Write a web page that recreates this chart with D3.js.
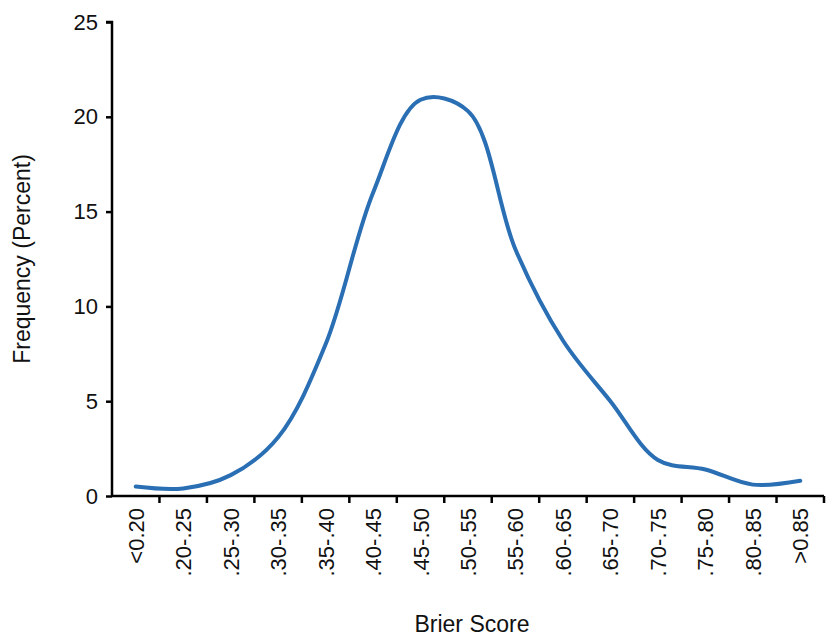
<!DOCTYPE html>
<html><head><meta charset="utf-8">
<script src="https://cdn.jsdelivr.net/npm/d3@7"></script>
<style>body{margin:0;background:#fff}text{font-family:"Liberation Sans",Arial,sans-serif;fill:#111}</style>
</head><body><svg width="826" height="638"></svg>
<script>
const categories = ["<0.20", ".20-.25", ".25-.30", ".30-.35", ".35-.40", ".40-.45", ".45-.50", ".50-.55", ".55-.60", ".60-.65", ".65-.70", ".70-.75", ".75-.80", ".80-.85", ">0.85"];
const frequency = [0.5, 0.4, 1.1, 3.1, 8.0, 16.0, 20.9, 20.3, 13.0, 8.2, 5.0, 1.9, 1.4, 0.6, 0.8];
const yTicks = [0, 5, 10, 15, 20, 25];

const svg = d3.select("svg");
const mLeft = 112, mRight = 824, mTop = 22, mBottom = 496;

const x = d3.scaleBand().domain(categories).range([mLeft, mRight]);
const y = d3.scaleLinear().domain([0, 25]).range([mBottom, mTop]);

// y axis
const ya = svg.append("g").attr("transform", `translate(${mLeft},0)`)
  .call(d3.axisLeft(y).tickValues(yTicks).tickSize(6).tickPadding(8));
ya.selectAll("text").style("font-size", "22px");
ya.selectAll("path,line").attr("stroke", "#000").attr("stroke-width", 2.5);
ya.select(".domain").attr("d", `M-6,${mTop}H0V${mBottom}`);

// x axis, ticks between bands
const xa = svg.append("g").attr("transform", `translate(0,${mBottom})`);
xa.append("line").attr("x1", mLeft).attr("x2", mRight).attr("stroke", "#000").attr("stroke-width", 2.5);
xa.selectAll(".tk").data(categories).join("line")
  .attr("x1", d => x(d) + x.bandwidth()).attr("x2", d => x(d) + x.bandwidth())
  .attr("y1", 0).attr("y2", 7).attr("stroke", "#000").attr("stroke-width", 2.5);
xa.selectAll(".lb").data(categories).join("text")
  .attr("transform", d => `translate(${x(d) + x.bandwidth() / 2 + 8},12) rotate(-90)`)
  .attr("text-anchor", "end").style("font-size", "22px").text(d => d);

// line
const line = d3.line()
  .x((d, i) => x(categories[i]) + x.bandwidth() / 2)
  .y(d => y(d))
  .curve(d3.curveCatmullRom.alpha(0.5));
svg.append("path").datum(frequency).attr("d", line)
  .attr("fill", "none").attr("stroke", "#2a6fb4").attr("stroke-width", 4)
  .attr("stroke-linecap", "round");

svg.append("text").attr("x", 472).attr("y", 632).attr("text-anchor", "middle")
  .style("font-size", "23px").text("Brier Score");
svg.append("text").attr("transform", "translate(30,259) rotate(-90)")
  .attr("text-anchor", "middle").style("font-size", "23px").text("Frequency (Percent)");
</script></body></html>
